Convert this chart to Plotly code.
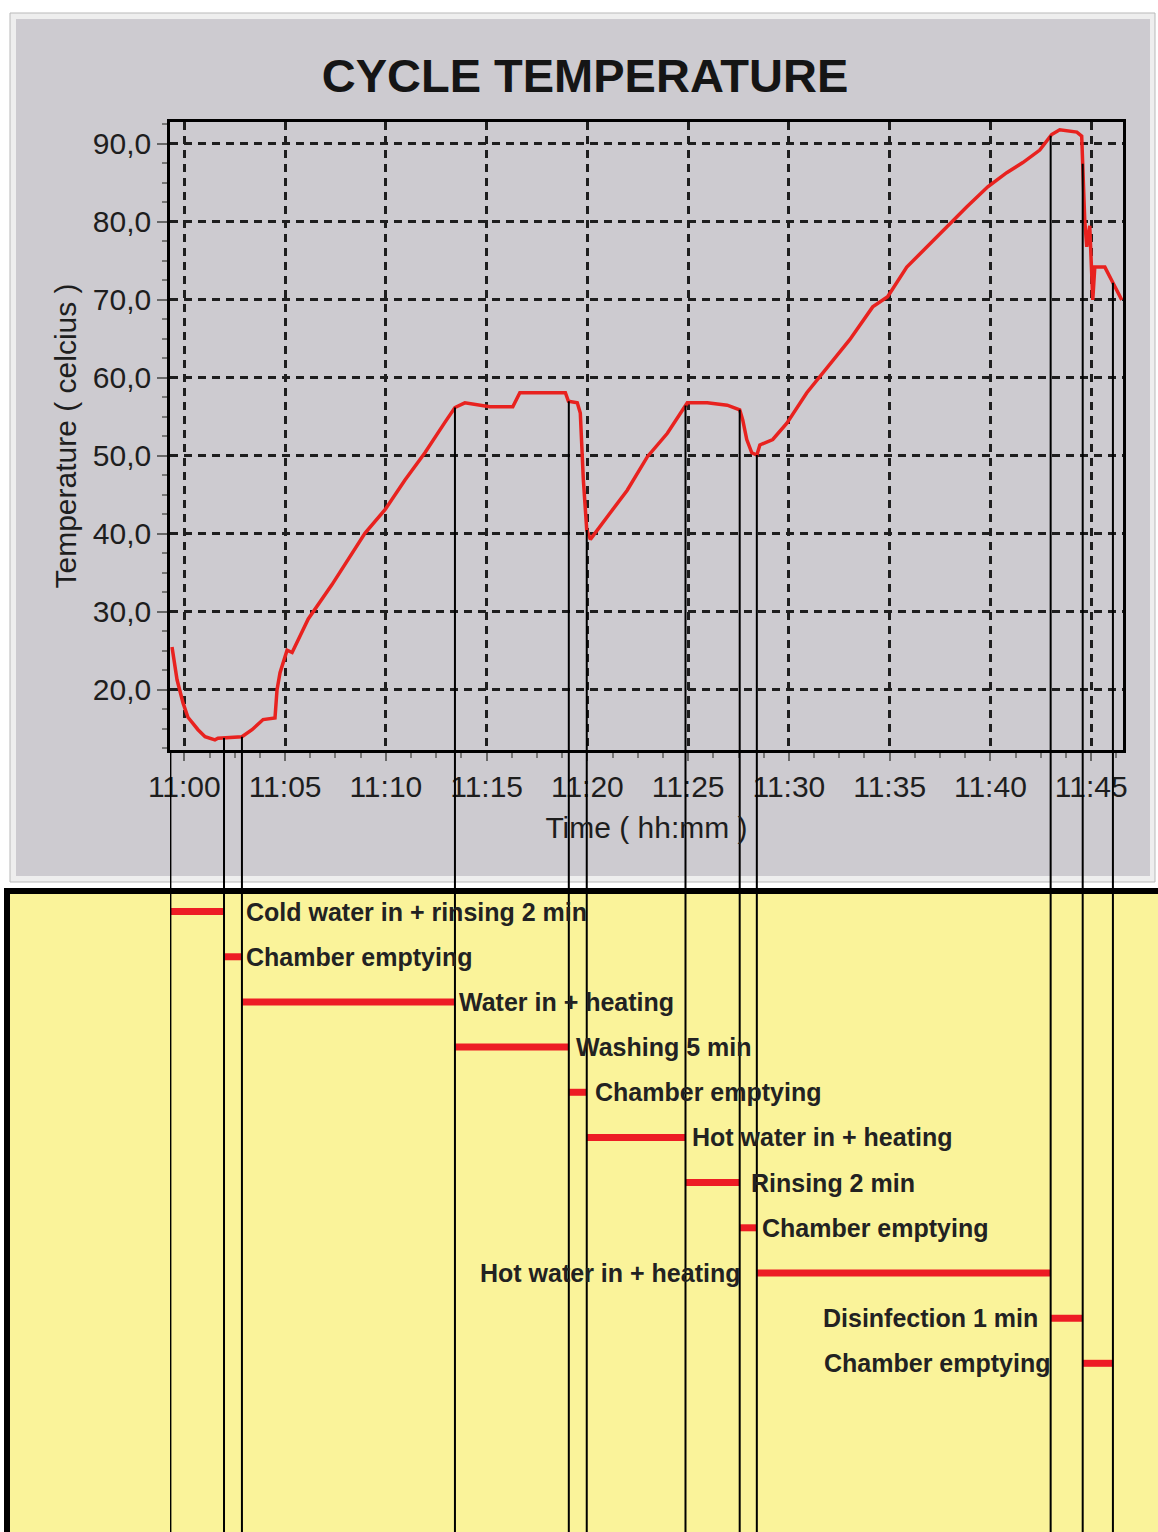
import numpy as np
import pandas as pd
import plotly.graph_objects as go

# ---------------- data ----------------
BASE = pd.Timestamp("2024-01-01 11:00:00")

# temperature curve: minutes after 11:00, degrees Celsius
TIME_MIN = [-0.61, -0.36, -0.06, 0.18, 0.68, 1.03, 1.52, 1.67, 2.86, 3.36, 3.91, 4.50,
            4.60, 4.75, 5.10, 5.35, 6.15, 7.33, 8.97, 9.96, 10.95, 11.94, 12.93, 13.43,
            13.92, 15.16, 16.30, 16.65, 18.91, 19.06, 19.50, 19.65, 19.80, 19.97, 20.15,
            20.30, 20.99, 21.98, 22.98, 23.97, 24.61, 24.96, 25.95, 26.94, 27.56, 27.71,
            27.91, 28.16, 28.41, 28.56, 29.20, 29.90, 30.89, 31.68, 33.02, 34.16, 34.90,
            35.85, 36.84, 37.83, 38.82, 39.87, 40.81, 41.61, 42.45, 43.04, 43.44, 44.29,
            44.53, 44.68, 44.78, 44.93, 45.08, 45.18, 45.68, 46.08, 46.52]
TEMP_C = [25.5, 21.3, 18.3, 16.5, 14.9, 14.0, 13.6, 13.8, 14.0, 14.9, 16.2, 16.4,
          20.0, 22.2, 25.1, 24.8, 29.1, 33.5, 40.1, 43.1, 46.9, 50.4, 54.3, 56.2,
          56.8, 56.3, 56.3, 58.1, 58.1, 57.0, 56.8, 55.5, 47.0, 40.5, 39.3,
          39.8, 42.2, 45.6, 49.9, 52.9, 55.5, 56.8, 56.8, 56.5, 55.9, 54.6,
          52.1, 50.4, 50.1, 51.4, 52.1, 54.2, 58.1, 60.6, 64.9, 69.1, 70.4,
          74.2, 76.8, 79.4, 81.9, 84.5, 86.3, 87.6, 89.2, 91.2, 91.8, 91.5,
          91.0, 80.3, 76.8, 79.5, 70.0, 74.2, 74.2, 72.2, 70.0]

Y_TICKS = [20, 30, 40, 50, 60, 70, 80, 90]

PHASE_NAMES = ["Cold water in + rinsing 2 min", "Chamber emptying", "Water in + heating",
               "Washing 5 min", "Chamber emptying", "Hot water in + heating",
               "Rinsing 2 min", "Chamber emptying", "Hot water in + heating",
               "Disinfection 1 min", "Chamber emptying"]
# phase boundaries, minutes after 11:00 (phase i runs from bound i to bound i+1)
PHASE_BOUNDS_MIN = [-0.69, 1.97, 2.86, 13.43, 19.08, 19.97, 24.87, 27.56, 28.41,
                    42.99, 44.58, 46.08]

# ---------------- layout helpers (positions / styles) ----------------
W, H = 1158, 1532
def px_x(x):
    return x / W
def px_y(y):
    return 1 - y / H

LABEL_SIDE = ["left"] * 8 + ["right"] * 3
LABEL_SHIFT = [22, 4, 4, 7, 8, 7, 11, 5, -17, -13, -33]
ROW_TOP_PX, ROW_STEP_PX = 911.6, 45.17

def tmin(m):
    return BASE + pd.to_timedelta(m, unit="min")

times = [tmin(m) for m in TIME_MIN]
bounds = [tmin(m) for m in PHASE_BOUNDS_MIN]

RED = "#E8221F"
BAR_RED = "#ED1C24"
TXT = "#222222"
FONT = "Liberation Sans"

fig = go.Figure()
fig.add_trace(go.Scatter(x=times, y=TEMP_C, mode="lines",
                         line=dict(color=RED, width=3.5), hoverinfo="skip",
                         showlegend=False, xaxis="x", yaxis="y"))

# phase bars in lower panel
seg_x, seg_y = [], []
for i in range(len(PHASE_NAMES)):
    seg_x += [bounds[i], bounds[i + 1], None]
    seg_y += [i, i, None]
fig.add_trace(go.Scatter(x=seg_x, y=seg_y, mode="lines",
                         line=dict(color=BAR_RED, width=7), hoverinfo="skip",
                         showlegend=False, xaxis="x2", yaxis="y2"))

shapes = []
# grey panel with light frame
shapes.append(dict(type="rect", xref="paper", yref="paper", layer="below",
                   x0=px_x(10), x1=px_x(1155), y0=px_y(882), y1=px_y(13),
                   fillcolor="#eeeeee", line=dict(color="#b9b9b9", width=1)))
shapes.append(dict(type="rect", xref="paper", yref="paper", layer="below",
                   x0=px_x(16), x1=px_x(1150), y0=px_y(876), y1=px_y(19),
                   fillcolor="#cdcbd0", line=dict(width=0)))
# yellow panel
shapes.append(dict(type="rect", xref="paper", yref="paper", layer="below",
                   x0=px_x(7), x1=px_x(1175), y0=px_y(1560), y1=px_y(891),
                   fillcolor="#FAF39A", line=dict(color="black", width=6)))

y_lo, y_hi = 12.3, 92.8
plot_bottom = px_y(750)
for i, b in enumerate(bounds):
    t_here = float(np.interp(PHASE_BOUNDS_MIN[i], TIME_MIN, TEMP_C))
    if i > 0:
        shapes.append(dict(type="line", xref="x", yref="y", x0=b, x1=b,
                           y0=t_here, y1=y_lo, line=dict(color="black", width=2)))
    shapes.append(dict(type="line", xref="x", yref="paper", x0=b, x1=b,
                       y0=plot_bottom, y1=0, line=dict(color="black", width=2)))

annotations = []
for i, name in enumerate(PHASE_NAMES):
    left = LABEL_SIDE[i] == "left"
    annotations.append(dict(
        x=bounds[i + 1] if left else bounds[i], y=i, xref="x2", yref="y2",
        text=name, showarrow=False, xanchor="left" if left else "right",
        yanchor="middle", xshift=LABEL_SHIFT[i], borderpad=0, borderwidth=0,
        font=dict(family=FONT, size=25, color=TXT, weight="bold")))

x_range = [tmin(-0.71), tmin(46.58)]
row_lo = (H - ROW_TOP_PX) / ROW_STEP_PX
row_hi = (891 - ROW_TOP_PX) / ROW_STEP_PX

fig.update_layout(
    width=W, height=H, autosize=False,
    margin=dict(l=0, r=0, t=0, b=0, autoexpand=False),
    paper_bgcolor="white", plot_bgcolor="rgba(0,0,0,0)",
    separators=",.",
    font=dict(family=FONT, color=TXT),
    title=dict(text="CYCLE TEMPERATURE", x=px_x(585), y=px_y(76),
               xanchor="center", yanchor="middle", automargin=False,
               font=dict(family=FONT, size=47, color="#151515", weight="bold")),
    xaxis=dict(domain=[px_x(170), px_x(1123)], anchor="y", type="date",
               automargin=False,
               range=x_range, tick0=BASE, dtick=300000, tickformat="%H:%M",
               showgrid=True, gridcolor="#1e1e1e", gridwidth=2.5, griddash="8px,6px",
               showline=True, linecolor="black", linewidth=2.5, mirror=True,
               ticks="outside", ticklen=8, tickwidth=1.5, tickcolor="#666666",
               minor=dict(dtick=75000, ticks="outside", ticklen=5, tickcolor="#777777",
                          tickwidth=1.5, showgrid=False),
               ticklabelstandoff=0,
               tickfont=dict(family=FONT, size=30, color="#1e1e1e"),
               title=dict(text="Time ( hh:mm )", standoff=16,
                          font=dict(family=FONT, size=30, color="#1e1e1e")),
               zeroline=False, fixedrange=True),
    yaxis=dict(domain=[px_y(750), px_y(122)], anchor="x",
               automargin=False,
               range=[y_lo, y_hi], tickvals=Y_TICKS, tickformat=".1f",
               showgrid=True, gridcolor="#1e1e1e", gridwidth=2.5, griddash="8px,6px",
               showline=True, linecolor="black", linewidth=2.5, mirror=True,
               ticks="outside", ticklen=10, tickwidth=1.5, tickcolor="#666666",
               minor=dict(dtick=2.5, ticks="outside", ticklen=5, tickcolor="#777777",
                          tickwidth=1.5, showgrid=False),
               tickfont=dict(family=FONT, size=30, color="#1e1e1e"),
               title=dict(text="Temperature ( celcius )", standoff=8,
                          font=dict(family=FONT, size=30, color="#1e1e1e")),
               zeroline=False, fixedrange=True),
    xaxis2=dict(domain=[px_x(170), px_x(1123)], anchor="y2", type="date",
                automargin=False,
                matches="x", showgrid=False, showticklabels=False, showline=False,
                ticks="", zeroline=False),
    yaxis2=dict(domain=[0, px_y(891)], anchor="x2", range=[row_lo, row_hi],
                automargin=False,
                showgrid=False, showticklabels=False, showline=False, ticks="",
                zeroline=False),
    shapes=shapes, annotations=annotations,
)

fig.write_html("out.html", config={"displayModeBar": False},
               post_script="document.body.style.margin='0';document.body.style.overflow='hidden';")
